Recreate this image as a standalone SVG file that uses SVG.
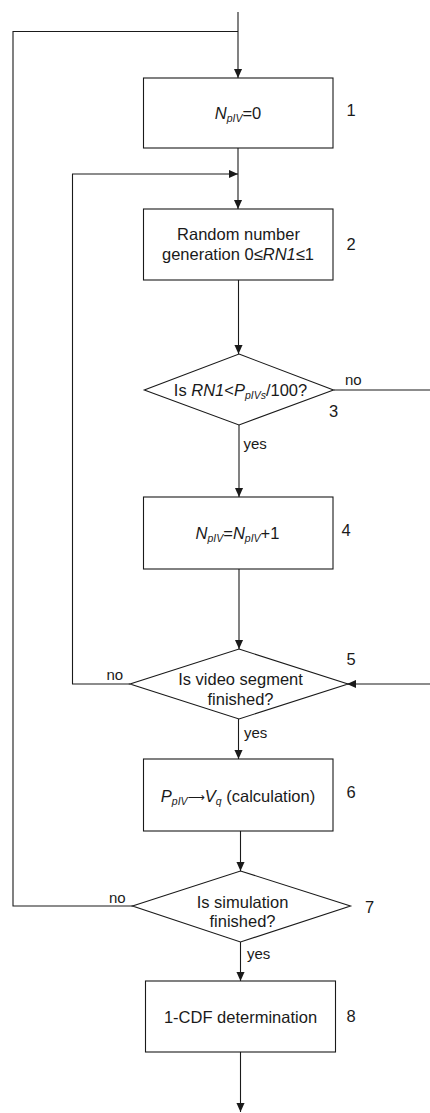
<svg xmlns="http://www.w3.org/2000/svg" width="430" height="1113" viewBox="0 0 430 1113">
  <style>
    .box { fill: #fff; stroke: #1a1a1a; stroke-width: 1.1; }
    .wire { fill: none; stroke: #1a1a1a; stroke-width: 1.1; }
    .arrow { fill: none; stroke: #1a1a1a; stroke-width: 1.1; marker-end: url(#head); }
    text { font-family: "Liberation Sans", Arial, sans-serif; fill: #1a1a1a; }
    .t { font-size: 16.5px; text-anchor: middle; }
    .num { font-size: 16.5px; }
    .lbl { font-size: 15px; }
    .it { font-style: italic; }
    .sub { font-size: 10.5px; font-style: italic; }
    .longarrow { font-family: "DejaVu Sans", sans-serif; font-size: 12px; }
  </style>
  <defs>
    <marker id="head" viewBox="0 0 10 10" refX="10" refY="5" markerWidth="9" markerHeight="9" markerUnits="userSpaceOnUse" orient="auto">
      <path d="M0,0.5 L10,5 L0,9.5 Z" fill="#1a1a1a"/>
    </marker>
  </defs>

  <!-- connectors -->
  <g id="connectors">
    <line class="arrow" x1="238" y1="12" x2="238" y2="78"/>
    <polyline class="wire" points="133,906 13,906 13,31.5 238,31.5"/>
    <line class="arrow" x1="238" y1="148" x2="238" y2="209"/>
    <polyline class="arrow" points="130,684 72.5,684 72.5,174 238,174"/>
    <line class="arrow" x1="238.5" y1="280" x2="238.5" y2="354"/>
    <line class="wire" x1="333.5" y1="390" x2="430" y2="390"/>
    <line class="arrow" x1="239" y1="425" x2="239" y2="497"/>
    <line class="arrow" x1="239" y1="569" x2="239" y2="649"/>
    <line class="arrow" x1="430" y1="684" x2="347" y2="684"/>
    <line class="arrow" x1="238.5" y1="719" x2="238.5" y2="759"/>
    <line class="arrow" x1="240.5" y1="831" x2="240.5" y2="871"/>
    <line class="arrow" x1="240.5" y1="942" x2="240.5" y2="981"/>
    <line class="arrow" x1="240.5" y1="1052" x2="240.5" y2="1112"/>
    <text class="lbl" x="345" y="385">no</text>
    <text class="lbl" x="243.5" y="449">yes</text>
    <text class="lbl" x="106.5" y="680">no</text>
    <text class="lbl" x="244" y="738">yes</text>
    <text class="lbl" x="109" y="902.5">no</text>
    <text class="lbl" x="247" y="959">yes</text>
  </g>

  <!-- 1: counter reset -->
  <g id="n1">
    <rect class="box" x="143.5" y="78" width="189.5" height="70"/>
    <text class="t" x="238" y="119"><tspan class="it">N</tspan><tspan class="sub" dy="3">pIV</tspan><tspan dy="-3">=0</tspan></text>
    <text class="num" x="346.5" y="116">1</text>
  </g>

  <!-- 2: random number -->
  <g id="n2">
    <rect class="box" x="143.5" y="209" width="189.5" height="71"/>
    <text class="t" x="238.5" y="240">Random number</text>
    <text class="t" x="238" y="259.5">generation 0≤<tspan class="it">RN1</tspan>≤1</text>
    <text class="num" x="346.5" y="250">2</text>
  </g>

  <!-- 3: threshold test -->
  <g id="n3">
    <polygon class="box" points="239,354 333.5,390 239,425 144.3,390"/>
    <text class="t" x="240.5" y="395.5">Is <tspan class="it">RN1</tspan>&lt;<tspan class="it">P</tspan><tspan class="sub" dy="3">pIVs</tspan><tspan dy="-3">/100?</tspan></text>
    <text class="num" x="329" y="417">3</text>
  </g>

  <!-- 4: counter increment -->
  <g id="n4">
    <rect class="box" x="143.5" y="497" width="189.5" height="72"/>
    <text class="t" x="237.5" y="538.5"><tspan class="it">N</tspan><tspan class="sub" dy="3">pIV</tspan><tspan dy="-3">=</tspan><tspan class="it">N</tspan><tspan class="sub" dy="3">pIV</tspan><tspan dy="-3">+1</tspan></text>
    <text class="num" x="341.5" y="536">4</text>
  </g>

  <!-- 5: segment end test -->
  <g id="n5">
    <polygon class="box" points="239,649 348,684 239,719 130,684"/>
    <text class="t" x="240.5" y="684.5">Is video segment</text>
    <text class="t" x="240.5" y="704.5">finished?</text>
    <text class="num" x="346.5" y="665">5</text>
  </g>

  <!-- 6: quality calculation -->
  <g id="n6">
    <rect class="box" x="143.5" y="759" width="189.5" height="72"/>
    <text class="t" x="238" y="801.5"><tspan class="it">P</tspan><tspan class="sub" dy="3">pIV</tspan><tspan class="longarrow" dy="-4">⟶</tspan><tspan class="it" dy="1">V</tspan><tspan class="sub" dy="3">q</tspan><tspan dy="-3"> (calculation)</tspan></text>
    <text class="num" x="346.5" y="798">6</text>
  </g>

  <!-- 7: simulation end test -->
  <g id="n7">
    <polygon class="box" points="240.5,871 350.5,906 240.5,942 132.5,906"/>
    <text class="t" x="242.5" y="907.5">Is simulation</text>
    <text class="t" x="242.5" y="927">finished?</text>
    <text class="num" x="365" y="913">7</text>
  </g>

  <!-- 8: distribution -->
  <g id="n8">
    <rect class="box" x="145.5" y="981" width="190" height="71"/>
    <text class="t" x="240.5" y="1023">1-CDF determination</text>
    <text class="num" x="346.5" y="1021.5">8</text>
  </g>
</svg>
